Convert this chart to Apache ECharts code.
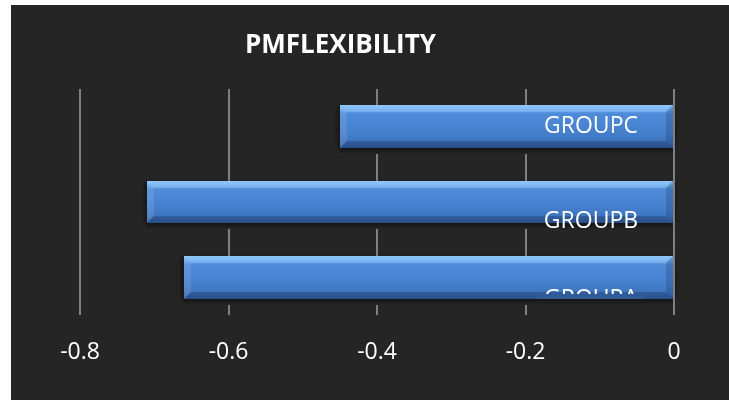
<!DOCTYPE html>
<html>
<head>
<meta charset="utf-8">
<script src="https://cdn.jsdelivr.net/npm/echarts@6/dist/echarts.min.js"></script>
<style>
  html, body { margin: 0; padding: 0; background: #ffffff; overflow: hidden; }
  #chart { position: absolute; left: 11px; top: 5px; width: 718px; height: 395px; }
</style>
</head>
<body>
<div id="chart"></div>
<script>
// ---- data ----
const categories = ['GROUPA', 'GROUPB', 'GROUPC'];
const values = [-0.66, -0.71, -0.45];
const xTicks = [-0.8, -0.6, -0.4, -0.2, 0];
const title = 'PMFLEXIBILITY';

// ---- style (label placement quirks of the original) ----
const labelShiftY = [22, 19, 0];              // px below bar centre
const labelClipFromBottom = [5, null, null];  // A's label is cut off just above the bar's bottom edge
const BG = '#252525';

const chart = echarts.init(document.getElementById('chart'), null, { renderer: 'canvas' });

function renderItem(params, api) {
  const idx = params.dataIndex;
  const v = api.value(0);
  const c = api.value(1);
  const p0 = api.coord([v, c]);
  const p1 = api.coord([0, c]);
  const band = api.size([0, 1])[1];
  const h = band * 0.57;
  const x0 = Math.round(p0[0]), x1 = Math.round(p1[0]) - 1;
  const yc = p0[1];
  const y0 = Math.round(yc - h / 2), y1 = Math.round(yc + h / 2);
  const w = x1 - x0, b = 7;
  const shadowGrad = () => new echarts.graphic.LinearGradient(0, 0, 0, 1, [
    { offset: 0, color: '#141414' }, { offset: 0.5, color: '#1c1c1c' }, { offset: 1, color: BG }
  ]);
  const clip = labelClipFromBottom[idx];
  const children = [
    { type: 'rect', shape: { x: x0 - 2, y: y0 + 2, width: w + 4, height: y1 - y0 - 2 },
      style: { fill: '#1a1a1a', shadowBlur: 4, shadowColor: 'rgba(0,0,0,0.6)' }, z2: 0 },
    { type: 'rect', shape: { x: x0 - 1, y: y1, width: w + 2, height: 6 },
      style: { fill: shadowGrad() }, z2: clip != null ? 8 : 1 },
    { type: 'rect', shape: { x: x0, y: y0, width: w, height: y1 - y0 },
      style: { fill: new echarts.graphic.LinearGradient(0, 0, 0, 1, [
        { offset: 0, color: '#86c0f7' },
        { offset: 0.12, color: '#6aa7ec' },
        { offset: 0.2, color: '#4f8bd8' },
        { offset: 0.6, color: '#4681cf' },
        { offset: 0.85, color: '#3d74bd' },
        { offset: 1, color: '#305f9e' }
      ]) }, z2: 2 },
    { type: 'polygon', shape: { points: [[x0, y0], [x0 + b, y0 + b], [x0 + b, y1 - b], [x0, y1]] },
      style: { fill: 'rgba(255,255,255,0.10)' }, z2: 3 },
    { type: 'polygon', shape: { points: [[x0, y0], [x1, y0], [x1 - b, y0 + b], [x0 + b, y0 + b]] },
      style: { fill: 'rgba(170,215,255,0.30)' }, z2: 3 },
    { type: 'polygon', shape: { points: [[x0, y1], [x0 + b, y1 - b], [x1 - b, y1 - b], [x1, y1]] },
      style: { fill: 'rgba(20,40,80,0.30)' }, z2: 3 },
    { type: 'polygon', shape: { points: [[x1, y0], [x1, y1], [x1 - b, y1 - b], [x1 - b, y0 + b]] },
      style: { fill: 'rgba(20,40,80,0.22)' }, z2: 3 },
    { type: 'text', x: x1 - 82, y: yc + labelShiftY[idx],
      style: { text: categories[idx], fill: '#ffffff', font: '23px "Open Sans"', align: 'center', verticalAlign: 'middle' }, z2: 5 }
  ];
  if (clip != null) {
    const tx = x1 - 82 - 54;
    children.push({ type: 'rect', shape: { x: tx, y: y1 - clip, width: 108, height: clip },
      style: { fill: '#2f5b98' }, z2: 7 });
    children.push({ type: 'rect', shape: { x: tx, y: y1 + 6, width: 108, height: 20 },
      style: { fill: BG }, z2: 7 });
  }
  return { type: 'group', children };
}

chart.setOption({
  backgroundColor: BG,
  animation: false,
  title: {
    text: title, left: 229, top: 23,
    textStyle: { color: '#ffffff', fontFamily: 'Open Sans', fontWeight: 'bold', fontSize: 26 }
  },
  grid: { left: 69, right: 55, top: 84, bottom: 85 },
  xAxis: {
    type: 'value', min: -0.8, max: 0, interval: 0.2,
    axisLine: { show: false }, axisTick: { show: false },
    splitLine: { show: true, lineStyle: { color: '#7f7f7f', width: 2 } },
    axisLabel: {
      color: '#ffffff', fontFamily: 'Open Sans', fontSize: 23, margin: 26,
      formatter: function (v) { const t = xTicks.find(x => Math.abs(x - v) < 1e-9); return String(t !== undefined ? t : v); }
    }
  },
  yAxis: {
    type: 'category', data: categories,
    axisLine: { show: false }, axisTick: { show: false }, axisLabel: { show: false },
    splitLine: { show: false }
  },
  series: [{
    type: 'custom',
    renderItem: renderItem,
    encode: { x: 0, y: 1 },
    data: values.map((v, i) => [v, i]),
    clip: false,
    z: 3
  }, {
    type: 'line', data: [], markLine: {
      silent: true, symbol: 'none', label: { show: false },
      lineStyle: { color: '#7f7f7f', width: 2, type: 'solid' },
      data: [{ xAxis: 0 }]
    }, z: 5
  }]
});
</script>
</body>
</html>
